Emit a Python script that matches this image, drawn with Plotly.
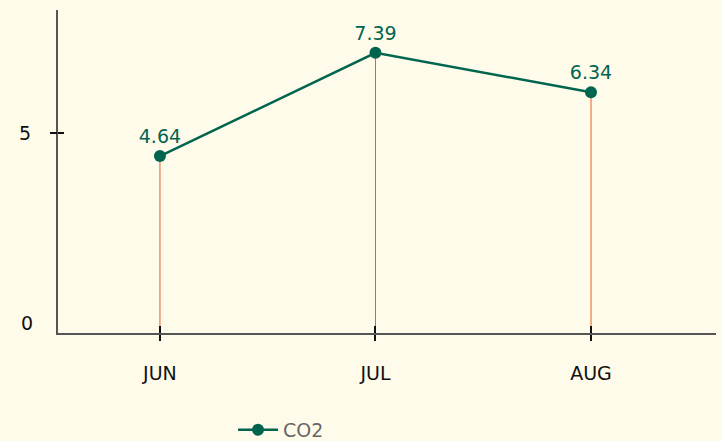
import plotly.graph_objects as go

# monthly CO2 readings
months = ['JUN', 'JUL', 'AUG']
co2 = [4.64, 7.39, 6.34]

BG = '#fffbea'
GREEN = '#00654f'
DROP = '#e0602c'
FONT = 'DejaVu Sans'

xs = list(range(len(months)))

fig = go.Figure()
fig.add_trace(go.Scatter(
    x=xs, y=co2, name='CO2', mode='lines+markers+text',
    text=[f'{v:.2f}' for v in co2], textposition='top center',
    textfont=dict(color=GREEN, size=19, family=FONT),
    line=dict(color=GREEN, width=2.5),
    marker=dict(color=GREEN, size=12),
    error_y=dict(type='data', symmetric=False, array=[0] * len(co2),
                 arrayminus=co2, color=DROP, thickness=1, width=0),
    cliponaxis=False,
))

fig.update_layout(
    width=722, height=441,
    margin=dict(l=58, r=6, t=10, b=108, autoexpand=False),
    paper_bgcolor=BG, plot_bgcolor=BG,
    font=dict(family=FONT, size=19, color='#111111'),
    showlegend=True,
    legend=dict(orientation='h', x=0.266, xanchor='left', y=-0.300, yanchor='middle',
                itemwidth=40, font=dict(color='#666666', size=19), bgcolor='rgba(0,0,0,0)'),
    xaxis=dict(range=[-0.473, 2.58], tickvals=xs, ticktext=months, automargin=False,
               showgrid=False, zeroline=False, showline=True, linecolor='#555555', linewidth=1.5,
               ticks='outside', ticklen=6, tickwidth=2, tickcolor='#111111',
               minor=dict(tickvals=xs, ticks='inside', ticklen=7, tickwidth=2, tickcolor='#111111'),
               ticklabelstandoff=16),
    # data axis: only the line
    yaxis=dict(range=[-0.07, 8.53], showgrid=False, zeroline=False, showline=True, automargin=False,
               linecolor='#555555', linewidth=1.5, showticklabels=False, ticks=''),
    # tick mark + label for 5
    yaxis2=dict(range=[-0.263, 8.237], overlaying='y', side='left', showgrid=False, zeroline=False,
                automargin=False,
                tickvals=[5], ticktext=['5'], ticks='outside', ticklen=7, tickwidth=2, tickcolor='#111111',
                minor=dict(tickvals=[5], ticks='inside', ticklen=6, tickwidth=2, tickcolor='#111111'),
                ticklabelstandoff=15),
    # label for 0 (no tick mark)
    yaxis3=dict(range=[-0.263, 8.237], overlaying='y', side='left', showgrid=False, zeroline=False,
                automargin=False, tickvals=[0], ticktext=['0'], ticks='', ticklabelstandoff=24),
)

# invisible helper traces so the overlay axes get drawn
fig.add_trace(go.Scatter(x=[None], y=[None], yaxis='y2', showlegend=False, hoverinfo='skip'))
fig.add_trace(go.Scatter(x=[None], y=[None], yaxis='y3', showlegend=False, hoverinfo='skip'))

# drop the browser's default body margin so the figure sits at the page corner
fig.write_html('out.html', config={'displayModeBar': False},
               post_script="document.body.style.margin='0';")
